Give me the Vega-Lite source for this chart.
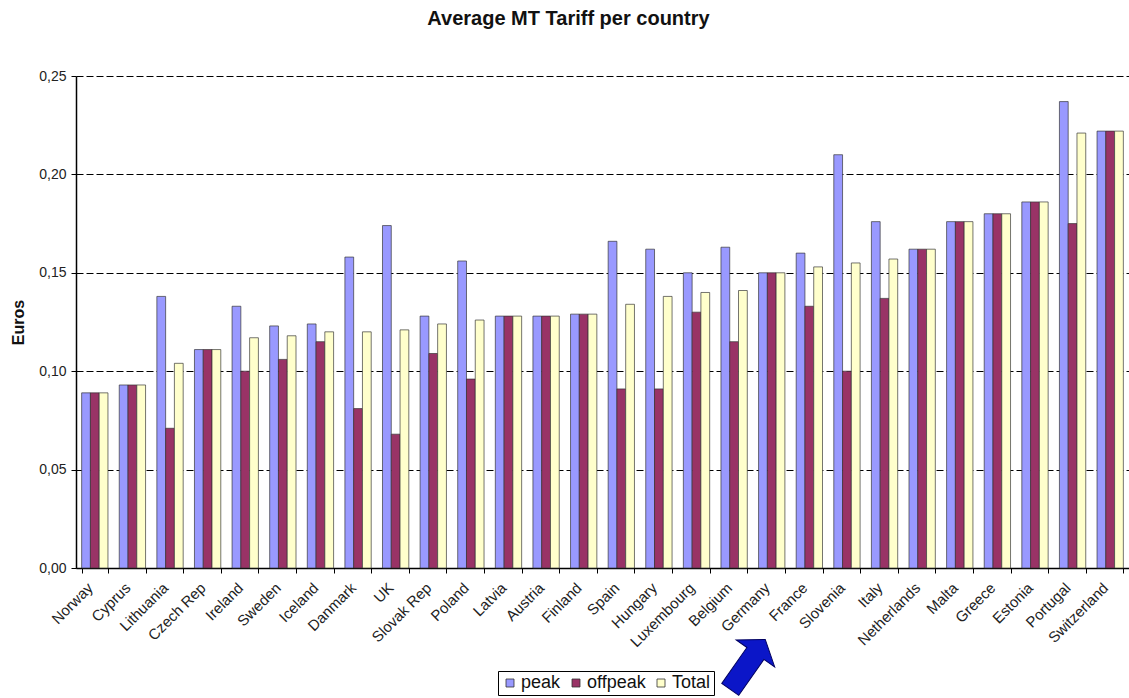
{
  "$schema": "https://vega.github.io/schema/vega-lite/v6.json",
  "autosize": {"type": "none"},
  "width": 1053,
  "height": 492,
  "padding": {"left": 76, "top": 76, "right": 0, "bottom": 130},
  "background": "white",
  "config": {
    "font": "Liberation Sans",
    "view": {"stroke": null}
  },
  "title": {
    "text": "Average MT Tariff per country",
    "fontSize": 20,
    "fontWeight": "bold",
    "font": "Liberation Sans",
    "color": "#111",
    "anchor": "middle",
    "frame": "group",
    "baseline": "alphabetic",
    "offset": 24,
    "dx": -34
  },
  "layer": [
    {
      "data": {
        "values": [
          {"country": "Norway", "type": "peak", "value": 0.089},
          {"country": "Norway", "type": "offpeak", "value": 0.089},
          {"country": "Norway", "type": "Total", "value": 0.089},
          {"country": "Cyprus", "type": "peak", "value": 0.093},
          {"country": "Cyprus", "type": "offpeak", "value": 0.093},
          {"country": "Cyprus", "type": "Total", "value": 0.093},
          {"country": "Lithuania", "type": "peak", "value": 0.138},
          {"country": "Lithuania", "type": "offpeak", "value": 0.071},
          {"country": "Lithuania", "type": "Total", "value": 0.104},
          {"country": "Czech Rep", "type": "peak", "value": 0.111},
          {"country": "Czech Rep", "type": "offpeak", "value": 0.111},
          {"country": "Czech Rep", "type": "Total", "value": 0.111},
          {"country": "Ireland", "type": "peak", "value": 0.133},
          {"country": "Ireland", "type": "offpeak", "value": 0.100},
          {"country": "Ireland", "type": "Total", "value": 0.117},
          {"country": "Sweden", "type": "peak", "value": 0.123},
          {"country": "Sweden", "type": "offpeak", "value": 0.106},
          {"country": "Sweden", "type": "Total", "value": 0.118},
          {"country": "Iceland", "type": "peak", "value": 0.124},
          {"country": "Iceland", "type": "offpeak", "value": 0.115},
          {"country": "Iceland", "type": "Total", "value": 0.120},
          {"country": "Danmark", "type": "peak", "value": 0.158},
          {"country": "Danmark", "type": "offpeak", "value": 0.081},
          {"country": "Danmark", "type": "Total", "value": 0.120},
          {"country": "UK", "type": "peak", "value": 0.174},
          {"country": "UK", "type": "offpeak", "value": 0.068},
          {"country": "UK", "type": "Total", "value": 0.121},
          {"country": "Slovak Rep", "type": "peak", "value": 0.128},
          {"country": "Slovak Rep", "type": "offpeak", "value": 0.109},
          {"country": "Slovak Rep", "type": "Total", "value": 0.124},
          {"country": "Poland", "type": "peak", "value": 0.156},
          {"country": "Poland", "type": "offpeak", "value": 0.096},
          {"country": "Poland", "type": "Total", "value": 0.126},
          {"country": "Latvia", "type": "peak", "value": 0.128},
          {"country": "Latvia", "type": "offpeak", "value": 0.128},
          {"country": "Latvia", "type": "Total", "value": 0.128},
          {"country": "Austria", "type": "peak", "value": 0.128},
          {"country": "Austria", "type": "offpeak", "value": 0.128},
          {"country": "Austria", "type": "Total", "value": 0.128},
          {"country": "Finland", "type": "peak", "value": 0.129},
          {"country": "Finland", "type": "offpeak", "value": 0.129},
          {"country": "Finland", "type": "Total", "value": 0.129},
          {"country": "Spain", "type": "peak", "value": 0.166},
          {"country": "Spain", "type": "offpeak", "value": 0.091},
          {"country": "Spain", "type": "Total", "value": 0.134},
          {"country": "Hungary", "type": "peak", "value": 0.162},
          {"country": "Hungary", "type": "offpeak", "value": 0.091},
          {"country": "Hungary", "type": "Total", "value": 0.138},
          {"country": "Luxembourg", "type": "peak", "value": 0.150},
          {"country": "Luxembourg", "type": "offpeak", "value": 0.130},
          {"country": "Luxembourg", "type": "Total", "value": 0.140},
          {"country": "Belgium", "type": "peak", "value": 0.163},
          {"country": "Belgium", "type": "offpeak", "value": 0.115},
          {"country": "Belgium", "type": "Total", "value": 0.141},
          {"country": "Germany", "type": "peak", "value": 0.150},
          {"country": "Germany", "type": "offpeak", "value": 0.150},
          {"country": "Germany", "type": "Total", "value": 0.150},
          {"country": "France", "type": "peak", "value": 0.160},
          {"country": "France", "type": "offpeak", "value": 0.133},
          {"country": "France", "type": "Total", "value": 0.153},
          {"country": "Slovenia", "type": "peak", "value": 0.210},
          {"country": "Slovenia", "type": "offpeak", "value": 0.100},
          {"country": "Slovenia", "type": "Total", "value": 0.155},
          {"country": "Italy", "type": "peak", "value": 0.176},
          {"country": "Italy", "type": "offpeak", "value": 0.137},
          {"country": "Italy", "type": "Total", "value": 0.157},
          {"country": "Netherlands", "type": "peak", "value": 0.162},
          {"country": "Netherlands", "type": "offpeak", "value": 0.162},
          {"country": "Netherlands", "type": "Total", "value": 0.162},
          {"country": "Malta", "type": "peak", "value": 0.176},
          {"country": "Malta", "type": "offpeak", "value": 0.176},
          {"country": "Malta", "type": "Total", "value": 0.176},
          {"country": "Greece", "type": "peak", "value": 0.180},
          {"country": "Greece", "type": "offpeak", "value": 0.180},
          {"country": "Greece", "type": "Total", "value": 0.180},
          {"country": "Estonia", "type": "peak", "value": 0.186},
          {"country": "Estonia", "type": "offpeak", "value": 0.186},
          {"country": "Estonia", "type": "Total", "value": 0.186},
          {"country": "Portugal", "type": "peak", "value": 0.237},
          {"country": "Portugal", "type": "offpeak", "value": 0.175},
          {"country": "Portugal", "type": "Total", "value": 0.221},
          {"country": "Switzerland", "type": "peak", "value": 0.222},
          {"country": "Switzerland", "type": "offpeak", "value": 0.222},
          {"country": "Switzerland", "type": "Total", "value": 0.222}
        ]
      },
      "mark": {"type": "bar", "stroke": "#333", "strokeWidth": 0.8, "strokeOpacity": 0.85},
      "encoding": {
        "x": {
          "field": "country",
          "type": "nominal",
          "sort": null,
          "scale": {"paddingInner": 0.3, "paddingOuter": 0.15},
          "axis": {
            "title": null,
            "labelAngle": -45,
            "labelAlign": "right",
            "labelBaseline": "middle",
            "labelPadding": 12,
            "labelOffset": -5,
            "labelFontSize": 15,
            "labelColor": "#222",
            "labelOverlap": false,
            "labelBound": false,
            "tickBand": "extent",
            "tickSize": 5,
            "tickColor": "#000",
            "domainColor": "#000",
            "domainWidth": 1.5,
            "grid": false
          }
        },
        "xOffset": {"field": "type", "type": "nominal", "sort": ["peak", "offpeak", "Total"]},
        "y": {
          "field": "value",
          "type": "quantitative",
          "scale": {"domain": [0, 0.25], "nice": false},
          "axis": {
            "title": "Euros",
            "titleFontSize": 16,
            "titleFontWeight": "bold",
            "titleColor": "#111",
            "titleAlign": "center",
            "titleBaseline": "middle",
            "titleX": -58,
            "titleY": 246,
            "values": [0, 0.05, 0.1, 0.15, 0.2, 0.25],
            "labelExpr": "replace(format(datum.value, '.2f'), '.', ',')",
            "labelFontSize": 14,
            "labelColor": "#222",
            "labelPadding": 5,
            "tickSize": 5,
            "tickColor": "#000",
            "domainColor": "#000",
            "domainWidth": 1.5,
            "grid": true,
            "gridColor": "#000",
            "gridWidth": 1,
            "gridDash": [7, 3]
          }
        },
        "color": {
          "field": "type",
          "type": "nominal",
          "sort": ["peak", "offpeak", "Total"],
          "scale": {"domain": ["peak", "offpeak", "Total"], "range": ["#9999FF", "#993366", "#FFFFCC"]},
          "legend": {
            "title": null,
            "orient": "none",
            "legendX": 422,
            "legendY": 595,
            "direction": "horizontal",
            "symbolType": "square",
            "symbolSize": 64,
            "symbolStrokeColor": "#333",
            "symbolStrokeWidth": 0.8,
            "symbolOpacity": 1,
            "labelFontSize": 18,
            "labelColor": "#111",
            "labelOffset": 2,
            "columnPadding": 6,
            "strokeColor": "#000",
            "padding": 3
          }
        }
      }
    },
    {
      "data": {"values": [{"country": "Germany"}]},
      "mark": {
        "type": "point",
        "shape": "M0,-1 L0.77,-0.44 L0.34,-0.44 L0.34,1 L-0.34,1 L-0.34,-0.44 L-0.77,-0.44 Z",
        "size": 3721,
        "angle": 35,
        "filled": true,
        "fill": "#0B16C8",
        "stroke": "#000060",
        "strokeWidth": 1,
        "opacity": 1,
        "xOffset": -24
      },
      "encoding": {
        "x": {"field": "country", "type": "nominal", "sort": null},
        "y": {"datum": -0.049, "type": "quantitative"}
      }
    }
  ]
}
